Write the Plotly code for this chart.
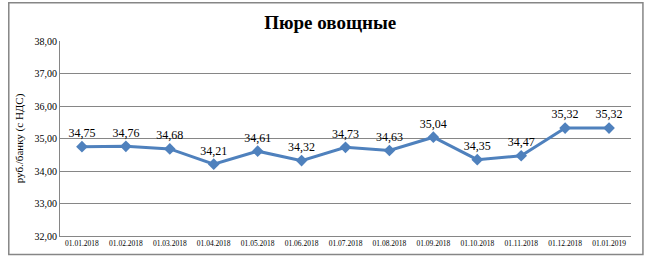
import plotly.graph_objects as go

categories = ["01.01.2018", "01.02.2018", "01.03.2018", "01.04.2018", "01.05.2018",
              "01.06.2018", "01.07.2018", "01.08.2018", "01.09.2018", "01.10.2018",
              "01.11.2018", "01.12.2018", "01.01.2019"]
values = [34.75, 34.76, 34.68, 34.21, 34.61, 34.32, 34.73, 34.63, 35.04, 34.35, 34.47, 35.32, 35.32]
y_ticks = [32, 33, 34, 35, 36, 37, 38]

labels = [f"{v:.2f}".replace(".", ",") for v in values]
serif = "Liberation Serif, Times New Roman, serif"

fig = go.Figure()
fig.add_trace(go.Scatter(
    x=categories, y=values, mode="lines+markers+text",
    text=labels, textposition="top center",
    textfont=dict(family=serif, size=12, color="#000000"),
    line=dict(color="#4F81BD", width=3),
    marker=dict(symbol="diamond", size=9, color="#4F81BD"),
    cliponaxis=False, showlegend=False,
))

fig.update_layout(
    width=645, height=260,
    margin=dict(l=60, r=14, t=41, b=21),
    paper_bgcolor="white", plot_bgcolor="white",
    separators=", ",
    title=dict(text="<b>Пюре овощные</b>", x=0.512, xanchor="center", y=0.915, yanchor="middle",
               font=dict(family=serif, size=19, color="#000000")),
    shapes=[dict(type="rect", xref="paper", yref="paper",
                 x0=-0.0897, x1=1.0209, y0=-0.0945, y1=1.1958,
                 line=dict(color="#868686", width=1.5), fillcolor="rgba(0,0,0,0)", layer="below")],
)
fig.update_xaxes(
    type="category", range=[-0.5, len(categories) - 0.5],
    showgrid=False, showline=True, linecolor="#868686", linewidth=1,
    ticks="", tickfont=dict(family=serif, size=7.5, color="#000000"), tickangle=0,
)
fig.update_yaxes(
    range=[32, 38], tickvals=y_ticks, tickformat=".2f",
    showgrid=True, gridcolor="#868686", gridwidth=1,
    showline=True, linecolor="#868686", linewidth=1, zeroline=False,
    ticks="", tickfont=dict(family=serif, size=10, color="#000000"),
    title=dict(text="руб./банку (с НДС)", font=dict(family=serif, size=11, color="#000000"), standoff=8),
)
fig.write_html("out.html")
